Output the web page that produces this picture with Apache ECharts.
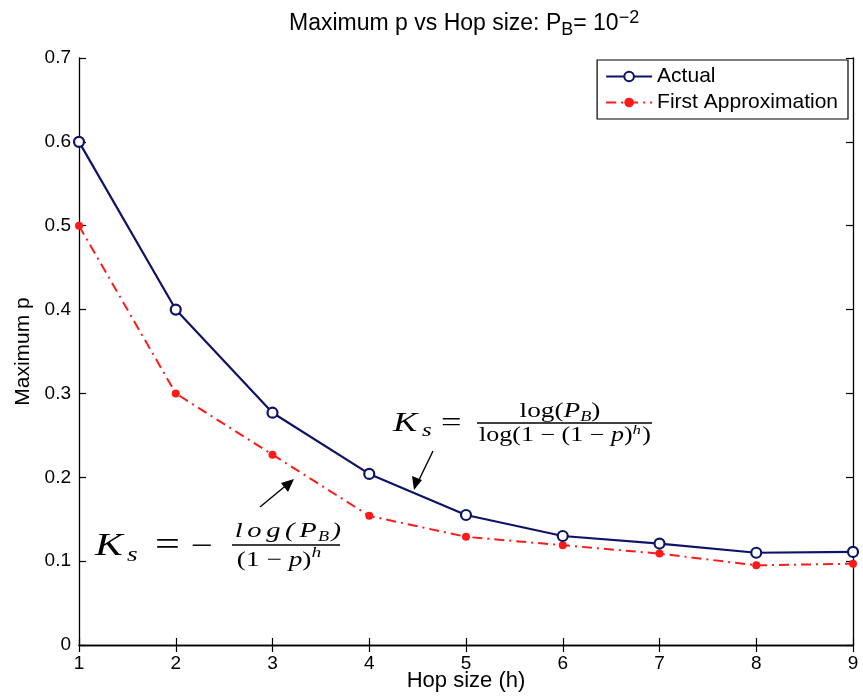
<!DOCTYPE html>
<html><head><meta charset="utf-8">
<script src="https://cdn.jsdelivr.net/npm/echarts@6/dist/echarts.min.js"></script>
<style>html,body{margin:0;padding:0;background:#fff}#c{width:863px;height:698px}</style>
</head><body><div id="c"></div>
<script>
const hops = [1, 2, 3, 4, 5, 6, 7, 8, 9];
const actual = [0.600, 0.400, 0.277, 0.204, 0.155, 0.130, 0.121, 0.110, 0.111];
const firstApprox = [0.500, 0.300, 0.227, 0.154, 0.129, 0.119, 0.109, 0.095, 0.097];
const yTicks = [0, 0.1, 0.2, 0.3, 0.4, 0.5, 0.6, 0.7];

const chart = echarts.init(document.getElementById('c'));
const F = 'Liberation Sans, Arial, sans-serif';
const S = '"Liberation Serif", "DejaVu Serif", serif';
const ctx = document.createElement('canvas').getContext('2d');
const SX = 1.3; // horizontal stretch of the math typesetting

// lay out a run of math text pieces along a baseline
function run(x, base, pieces, align) {
  const out = [];
  const widths = pieces.map(p => { ctx.font = p.f; return (ctx.measureText(p.t).width + (p.sp || 0)) * SX; });
  const total = widths.reduce((a, b) => a + b, 0);
  let cx = align === 'center' ? x - total / 2 : x;
  pieces.forEach((p, i) => {
    out.push({type: 'text', x: cx + (p.dx || 0), y: base + (p.dy || 0) - 0.3 * p.s, scaleX: SX,
      style: {text: p.t, font: p.f, fill: '#000', align: 'left', verticalAlign: 'middle'}});
    cx += widths[i];
  });
  return out;
}
const R = (t, s, o) => Object.assign({t, s, f: s + 'px ' + S}, o || {});
const I = (t, s, o) => Object.assign({t, s, f: 'italic ' + s + 'px ' + S}, o || {});

const axisCommon = {
  type: 'value',
  axisLine: {show: true, lineStyle: {color: '#000', width: 1.3}},
  axisTick: {show: true, inside: true, length: 7, lineStyle: {color: '#000', width: 1.2}},
  splitLine: {show: false}
};

const graphics = [].concat(
  // Formula 1 : K_s = log(P_B) / log(1-(1-p)^h)
  run(393, 432, [I('K', 28)]),
  run(422, 437, [I('s', 19)]),
  run(441, 432, [R('=', 28)]),
  run(560, 418, [R('log(', 21), I('P', 21), I('B', 14, {dy: 4}), R(')', 21)], 'center'),
  [{type: 'line', shape: {x1: 477, y1: 423, x2: 652, y2: 423}, style: {stroke: '#000', lineWidth: 1.4}}],
  run(565, 442, [R('log(1 − (1 − ', 20), I('p', 20), R(')', 20), I('h', 13, {dy: -8, sp: 1}), R(')', 20)], 'center'),
  [{type: 'line', shape: {x1: 433, y1: 451, x2: 417, y2: 484}, style: {stroke: '#000', lineWidth: 1.4}},
   {type: 'polygon', shape: {points: [[414, 490], [412, 476], [422, 480]]}, style: {fill: '#000'}}],
  // Formula 2 : K_s = - log(P_B) / (1-p)^h
  run(95, 556, [I('K', 32)]),
  run(127, 562, [I('s', 21)]),
  run(155, 556, [R('=', 34)]),
  run(191, 556, [R('−', 30)]),
  run(288, 538, [I('l', 22, {sp: 3.5}), I('o', 22, {sp: 3.5}), I('g', 22, {sp: 3.5}), I('(', 22, {sp: 3.5}), I('P', 22, {sp: 1}), I('B', 14, {dy: 4, sp: 2}), I(')', 22)], 'center'),
  [{type: 'line', shape: {x1: 232, y1: 545, x2: 340, y2: 545}, style: {stroke: '#000', lineWidth: 1.4}}],
  run(279, 567, [R('(1 − ', 21), I('p', 21), R(')', 21), I('h', 15, {dy: -9})], 'center'),
  [{type: 'line', shape: {x1: 260, y1: 507, x2: 289, y2: 483}, style: {stroke: '#000', lineWidth: 1.4}},
   {type: 'polygon', shape: {points: [[294, 479], [281, 483], [288, 492]]}, style: {fill: '#000'}}]
);

chart.setOption({
  animation: false,
  backgroundColor: '#fff',
  title: {
    text: 'Maximum p vs Hop size: P{sub|B}= 10{sup|−2}',
    left: 284, top: 4,
    textStyle: {fontFamily: F, fontSize: 23, fontWeight: 'normal', color: '#000',
      rich: {sub: {fontFamily: F, fontSize: 18, verticalAlign: 'bottom', padding: [12, 0, 0, 0]},
             sup: {fontFamily: F, fontSize: 18, verticalAlign: 'top', padding: [0, 0, 12, 0]}}}
  },
  grid: {left: 79, right: 10, top: 58, bottom: 53, containLabel: false, outerBoundsMode: 'none'},
  legend: {
    right: 15, top: 60, orient: 'vertical', itemGap: 5, itemWidth: 46, itemHeight: 12,
    backgroundColor: '#fff', borderColor: '#000', borderWidth: 1.2, padding: [6, 10, 6, 8],
    textStyle: {fontFamily: F, fontSize: 21, color: '#000'},
    data: ['Actual', 'First Approximation']
  },
  xAxis: [
    Object.assign({}, axisCommon, {min: 1, max: 9, interval: 1, position: 'bottom',
      name: 'Hop size (h)', nameLocation: 'middle', nameGap: 25, nameMoveOverlap: false,
      nameTextStyle: {fontFamily: F, fontSize: 22, color: '#000'},
      axisLabel: {fontFamily: F, fontSize: 19, color: '#000', margin: 9}}),
    Object.assign({}, axisCommon, {min: 1, max: 9, interval: 1, position: 'top', axisLabel: {show: false}})
  ],
  yAxis: [
    Object.assign({}, axisCommon, {min: 0, max: 0.7, interval: 0.1, position: 'left',
      name: 'Maximum p', nameLocation: 'middle', nameGap: 45, nameMoveOverlap: false,
      nameTextStyle: {fontFamily: F, fontSize: 21, color: '#000'},
      axisLabel: {fontFamily: F, fontSize: 19, color: '#000', margin: 8,
        formatter: v => { const t = yTicks.find(x => Math.abs(x - v) < 1e-9); return t === 0 ? '0' : String(t); }}}),
    Object.assign({}, axisCommon, {min: 0, max: 0.7, interval: 0.1, position: 'right', axisLabel: {show: false}})
  ],
  series: [
    {name: 'Actual', type: 'line', data: hops.map((h, i) => [h, actual[i]]),
      symbol: 'circle', symbolSize: 10, showSymbol: true,
      lineStyle: {color: '#0d1466', width: 2.2},
      itemStyle: {color: '#fff', borderColor: '#0d1466', borderWidth: 2.2},
      z: 3},
    {name: 'First Approximation', type: 'line', data: hops.map((h, i) => [h, firstApprox[i]]),
      symbol: 'circle', symbolSize: 8, showSymbol: true,
      lineStyle: {color: '#ff1a1a', width: 2, type: [10, 5, 2, 5]},
      itemStyle: {color: '#ff1a1a', borderColor: '#ff1a1a', borderWidth: 0},
      z: 2}
  ],
  graphic: graphics
});
</script></body></html>
